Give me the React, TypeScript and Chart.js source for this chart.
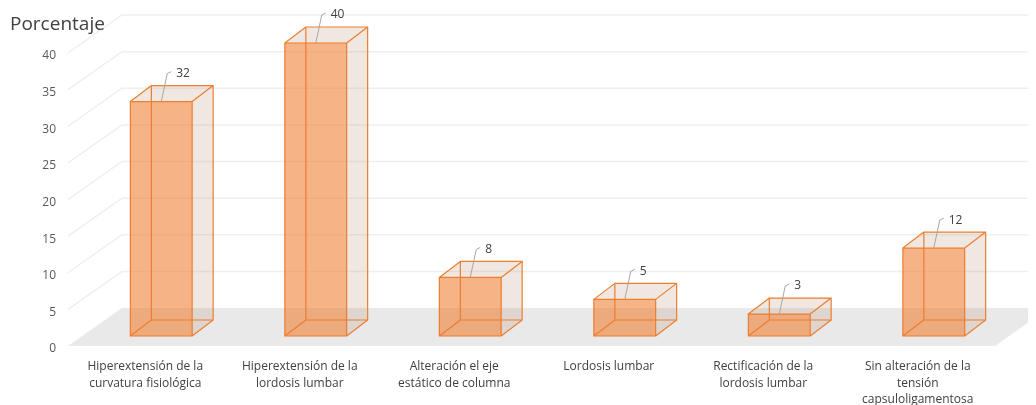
import React, { useEffect, useRef } from "react";
import { Chart, registerables } from "chart.js";
Chart.register(...registerables);

const categories: string[][] = [
  ["Hiperextensión de la", "curvatura fisiológica"],
  ["Hiperextensión de la", "lordosis lumbar"],
  ["Alteración el eje", "estático de columna"],
  ["Lordosis lumbar"],
  ["Rectificación de la", "lordosis lumbar"],
  ["Sin alteración de la", "tensión", "capsuloligamentosa"],
];
const values: number[] = [32, 40, 8, 5, 3, 12];
const yTicks: number[] = [0, 5, 10, 15, 20, 25, 30, 35, 40];
const axisTitle = "Porcentaje";

export default function App() {
  const ref = useRef<HTMLCanvasElement>(null);
  useEffect(() => {
    if (!ref.current) return;
    const FONT = "'Open Sans', sans-serif";
    const DEPTH_X = 54, DEPTH_Y = 38;
    const BAR_OFF_X = 16, BAR_OFF_Y = 10;
    const BOX_X = 21, BOX_Y = 16;
    const ORANGE = "#ED7D31";

    const plugin = {
      id: "excel3d",
      beforeDatasetsDraw(chart: any) {
        const { ctx, chartArea: a } = chart;
        const y = chart.scales.y;
        ctx.save();
        ctx.fillStyle = "#e9e9e9";
        ctx.beginPath();
        ctx.moveTo(a.left, a.bottom);
        ctx.lineTo(a.right, a.bottom);
        ctx.lineTo(a.right + DEPTH_X, a.bottom - DEPTH_Y);
        ctx.lineTo(a.left + DEPTH_X, a.bottom - DEPTH_Y);
        ctx.closePath();
        ctx.fill();
        ctx.strokeStyle = "#efefef";
        ctx.lineWidth = 1.5;
        yTicks.forEach((v) => {
          if (v === 0) return;
          const py = y.getPixelForValue(v);
          ctx.beginPath();
          ctx.moveTo(a.left, py);
          ctx.lineTo(a.left + DEPTH_X, py - DEPTH_Y);
          ctx.lineTo(chart.width, py - DEPTH_Y);
          ctx.stroke();
        });
        ctx.fillStyle = "#404040";
        ctx.font = `19px ${FONT}`;
        ctx.textBaseline = "middle";
        ctx.textAlign = "left";
        ctx.fillText(axisTitle, 2, 17);
        ctx.restore();
      },
      afterDatasetsDraw(chart: any) {
        const { ctx } = chart;
        const meta = chart.getDatasetMeta(0);
        ctx.save();
        meta.data.forEach((el: any, i: number) => {
          const cx = el.x + BAR_OFF_X;
          const half = el.width / 2;
          const L = cx - half, R = cx + half;
          const T = el.y - BAR_OFF_Y, B = el.base - BAR_OFF_Y;
          const bx = BOX_X, by = BOX_Y;
          ctx.fillStyle = "rgba(180,120,90,0.18)";
          ctx.beginPath();
          ctx.moveTo(L, T); ctx.lineTo(R, T); ctx.lineTo(R + bx, T - by); ctx.lineTo(L + bx, T - by); ctx.closePath();
          ctx.fill();
          ctx.beginPath();
          ctx.moveTo(R, T); ctx.lineTo(R + bx, T - by); ctx.lineTo(R + bx, B - by); ctx.lineTo(R, B); ctx.closePath();
          ctx.fill();
          ctx.fillStyle = "rgba(240,128,52,0.6)";
          ctx.fillRect(L, T, R - L, B - T);
          ctx.strokeStyle = ORANGE;
          ctx.lineWidth = 1.2;
          ctx.beginPath();
          ctx.rect(L, T, R - L, B - T);
          ctx.rect(L + bx, T - by, R - L, B - T);
          ctx.moveTo(L, T); ctx.lineTo(L + bx, T - by);
          ctx.moveTo(R, T); ctx.lineTo(R + bx, T - by);
          ctx.moveTo(R, B); ctx.lineTo(R + bx, B - by);
          ctx.moveTo(L, B); ctx.lineTo(L + bx, B - by);
          ctx.stroke();
          ctx.strokeStyle = "#a6a6a6";
          ctx.lineWidth = 1;
          ctx.beginPath();
          ctx.moveTo(cx, T);
          ctx.lineTo(cx + 6, T - 28);
          ctx.lineTo(cx + 10, T - 30);
          ctx.stroke();
          ctx.fillStyle = "#404040";
          ctx.font = `12px ${FONT}`;
          ctx.textAlign = "left";
          ctx.textBaseline = "middle";
          ctx.fillText(String(values[i]), cx + 15, T - 28);
        });
        ctx.restore();
      },
    };

    const chart = new Chart(ref.current, {
      type: "bar",
      data: {
        labels: categories,
        datasets: [
          {
            data: values,
            backgroundColor: "rgba(0,0,0,0)",
            borderWidth: 0,
            barPercentage: 0.4,
            categoryPercentage: 1,
          },
        ],
      },
      options: {
        animation: false,
        responsive: true,
        maintainAspectRatio: false,
        layout: { padding: { left: 8, right: 33, top: 45, bottom: 0 } },
        plugins: { legend: { display: false }, tooltip: { enabled: false } },
        scales: {
          x: {
            grid: { display: false },
            border: { display: false },
            ticks: {
              autoSkip: false,
              maxRotation: 0,
              minRotation: 0,
              color: "#404040",
              padding: 4,
              font: { family: FONT, size: 12, lineHeight: 1.4 },
            },
            afterFit: (s: any) => { s.height = 59; },
          },
          y: {
            min: 0,
            max: 40,
            grid: { display: false },
            border: { display: false },
            ticks: {
              stepSize: 5,
              color: "#595959",
              padding: 4,
              labelOffset: 3,
              font: { family: FONT, size: 12 },
            },
            afterFit: (s: any) => { s.width = 52; },
          },
        },
      },
      plugins: [plugin],
    });
    return () => chart.destroy();
  }, []);

  return (
    <div style={{ width: 1020, height: 397, position: "relative" }}>
      <canvas ref={ref} />
    </div>
  );
}
